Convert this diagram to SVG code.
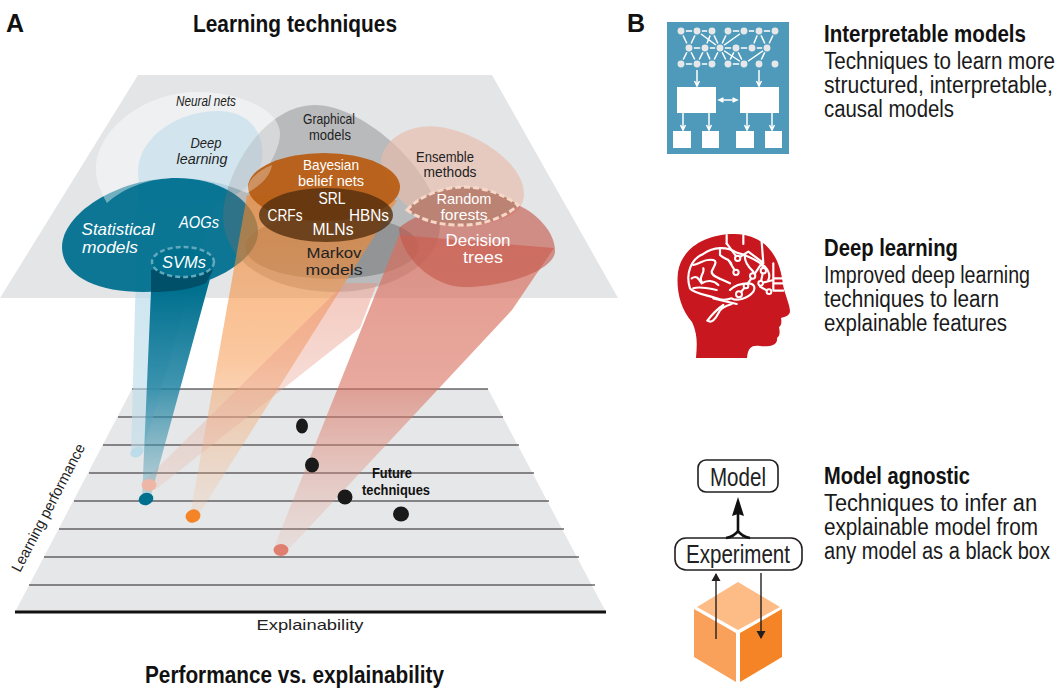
<svg xmlns="http://www.w3.org/2000/svg" width="1059" height="691" viewBox="0 0 1059 691">
<style>
text{font-family:"Liberation Sans",Arial,sans-serif}
.t{font-weight:700;font-size:24px;fill:#111}
.h{font-weight:700;font-size:20.5px;fill:#111}
.d{font-size:20.5px;fill:#1a1a1a}
.w{fill:#fff;font-size:17px;text-anchor:middle}
.k{fill:#222;font-size:15px;text-anchor:middle}
.i{font-style:italic}
.grid line{stroke:#231f20;stroke-width:1.2}
.lnk line{stroke:#fff;stroke-width:1.500}
.nd circle{fill:#e6e7e8;stroke:#4f9abb;stroke-width:1.500}
.wb{fill:#fff}
.ar{stroke:#fff;stroke-width:1.5;fill:none}
.bl{fill:none;stroke:#fff;stroke-width:6.500;stroke-linecap:round;stroke-linejoin:round}
.bc{fill:#c8171e;stroke:#fff;stroke-width:6}
.bx{fill:#fff;stroke:#231f20;stroke-width:1.6}
</style>
<defs>
<linearGradient id="gT" gradientUnits="userSpaceOnUse" x1="0" y1="290" x2="0" y2="499"><stop offset="0" stop-color="#00708f"/><stop offset="0.45" stop-color="#1d82a1" stop-opacity=".85"/><stop offset="1" stop-color="#5da3b8" stop-opacity=".3"/></linearGradient>
<linearGradient id="gB" gradientUnits="userSpaceOnUse" x1="0" y1="200" x2="0" y2="452"><stop offset="0" stop-color="#bcdcea" stop-opacity=".8"/><stop offset="1" stop-color="#bcdcea" stop-opacity=".55"/></linearGradient>
<linearGradient id="gO" gradientUnits="userSpaceOnUse" x1="0" y1="205" x2="0" y2="516"><stop offset="0" stop-color="#f58426" stop-opacity=".62"/><stop offset="0.5" stop-color="#f79a52" stop-opacity=".55"/><stop offset="1" stop-color="#f7b98a" stop-opacity=".15"/></linearGradient>
<linearGradient id="gP" gradientUnits="userSpaceOnUse" x1="0" y1="283" x2="0" y2="490"><stop offset="0" stop-color="#e8927e" stop-opacity=".5"/><stop offset="1" stop-color="#e8b5a4" stop-opacity=".25"/></linearGradient>
<linearGradient id="gR" gradientUnits="userSpaceOnUse" x1="0" y1="230" x2="0" y2="550"><stop offset="0" stop-color="#d9705f" stop-opacity=".72"/><stop offset="0.5" stop-color="#d9705f" stop-opacity=".6"/><stop offset="1" stop-color="#e8a795" stop-opacity=".15"/></linearGradient>
<marker id="mh" viewBox="0 0 8 12" refX="7" refY="6" markerWidth="8" markerHeight="12" orient="auto" markerUnits="userSpaceOnUse"><path d="M0,1.5 L8,6 L0,10.5 Z" fill="#231f20"/></marker>
</defs>

<g id="panel-a-planes">
<polygon points="138,75 492,75 618,298 0,298" fill="#e4e5e7"/>
<polygon points="132,389 488,389 606,612 15,612" fill="#e6e7e8"/>
<g class="grid">
<line x1="132" y1="389" x2="488" y2="389"/><line x1="118" y1="417" x2="503" y2="417"/><line x1="103" y1="445" x2="519" y2="445"/><line x1="89" y1="473" x2="534" y2="473"/><line x1="74" y1="501" x2="549" y2="501"/><line x1="59" y1="529" x2="564" y2="529"/><line x1="44" y1="557" x2="579" y2="557"/><line x1="29" y1="585" x2="595" y2="585"/>
</g>
<line x1="15" y1="612" x2="606" y2="612" stroke="#111" stroke-width="3"/>
</g>

<g id="deep-learning"><path d="M138,170 C140,135 180,110 220,111 C255,112 265,140 262,160 C258,185 235,195 225,200 L140,215Z" fill="#a9d0e2" fill-opacity=".85"/></g>
<g id="beam-deep"><polygon points="138,200 215,200 143,452 131,452" fill="url(#gB)"/></g>
<g id="statistical"><path d="M62,247 C62,215 115,178 177,178 C225,178 258,205 258,232 C258,262 205,292 143,292 C95,292 62,275 62,247Z" fill="#00708f" fill-opacity=".95"/></g>
<g id="graphical-models"><path d="M223,215 C225,170 265,105 315,105 C365,105 440,175 440,225 C440,265 390,292 335,292 C275,292 223,265 223,215Z" fill="#6d6e71" fill-opacity=".36"/></g>
<g id="neural-nets"><path d="M96,165 C100,125 150,90 200,92 C245,93 282,112 280,136 C278,155 262,178 247,193 C225,183 200,178 177,178 C150,178 125,187 107,203 C100,190 95,180 96,165Z" fill="#fff" fill-opacity=".42"/></g>
<g id="ensemble"><path d="M381,160 C385,135 415,123 440,127 C480,133 525,165 524,195 C523,215 500,225 460,226 C420,225 385,195 381,160Z" fill="#e7bcaa" fill-opacity=".65"/></g>
<g id="markov"><ellipse cx="332" cy="247" rx="87" ry="32" fill="#3d3a3a" fill-opacity=".3"/></g>

<g id="connectors">
<polygon points="247,195 397,200 198,516 190,516" fill="url(#gO)"/>
<polygon points="345,283 377,283 360,328 155,490 143,482" fill="url(#gP)"/>
<polygon points="399,235 554,248 512,310 288,550 273,550" fill="url(#gR)"/>
</g>

<g id="decision-trees"><path d="M399,228 C415,215 440,205 465,205 C490,205 510,200 518,205 C540,215 556,235 555,252 C553,272 500,288 462,287 C430,285 400,255 399,228Z" fill="#c4574a" fill-opacity=".62"/></g>
<g id="random-forests"><path d="M407,210 C420,195 445,187 463,187 C485,187 505,195 518,205 C505,218 480,226 458,225 C435,225 418,218 407,210Z" fill="#bb8373" stroke="#f6d8c8" stroke-width="3" stroke-dasharray="6 3"/></g>
<g id="bayesian"><ellipse cx="324" cy="187" rx="76" ry="34" fill="#b85f16" fill-opacity=".96"/><path d="M248,187 C250,177 260,170 272,165 C270,178 258,187 247,193Z" fill="#fff" fill-opacity=".3"/></g>
<g id="srl"><ellipse cx="326" cy="215" rx="67" ry="27" fill="#54300f" fill-opacity=".8"/></g>
<g id="teal-beam"><polygon points="152,268 213,268 150,499 142,499" fill="url(#gT)"/><path d="M151,270 L213,270 L206,283 C190,290 170,292 151,292Z" fill="#00506a"/></g>
<g id="svms"><ellipse cx="183" cy="262" rx="31" ry="15" fill="#00708f" stroke="#62a8bc" stroke-width="2.5" stroke-dasharray="5 3"/></g>

<g id="dots">
<ellipse cx="137" cy="452" rx="7" ry="5" fill="#bcdcea" transform="rotate(-25 137 452)"/>
<ellipse cx="149" cy="485" rx="7.500" ry="6" fill="#eeb7a5"/>
<ellipse cx="146" cy="499" rx="7.500" ry="6" fill="#00708f" transform="rotate(-20 146 499)"/>
<ellipse cx="193" cy="516" rx="7.500" ry="6.500" fill="#f58426" transform="rotate(-20 193 516)"/>
<ellipse cx="281" cy="550" rx="7.500" ry="6" fill="#e07f70"/>
<ellipse cx="302" cy="426" rx="6" ry="7.500" fill="#1a1a1a"/>
<ellipse cx="312" cy="465" rx="7" ry="7.500" fill="#1a1a1a"/>
<ellipse cx="345" cy="497" rx="7.500" ry="7.500" fill="#1a1a1a"/>
<ellipse cx="401" cy="514" rx="8" ry="7.500" fill="#1a1a1a"/>
</g>

<g id="labels-a">
<text x="6" y="32" font-size="25" font-weight="700" fill="#111">A</text>
<text x="193" y="32" class="t" textLength="204" lengthAdjust="spacingAndGlyphs">Learning techniques</text>
<text x="145" y="683" class="t" textLength="299" lengthAdjust="spacingAndGlyphs">Performance vs. explainability</text>
<text class="k i" x="206" y="106" textLength="60" lengthAdjust="spacingAndGlyphs">Neural nets</text>
<text class="k" x="329" y="124" textLength="52" lengthAdjust="spacingAndGlyphs">Graphical</text>
<text class="k" x="330" y="140" textLength="42" lengthAdjust="spacingAndGlyphs">models</text>
<text class="k i" x="206" y="148" font-size="16" textLength="31" lengthAdjust="spacingAndGlyphs">Deep</text>
<text class="k i" x="202" y="164" font-size="16" textLength="51" lengthAdjust="spacingAndGlyphs">learning</text>
<text class="k" x="445" y="162" textLength="58" lengthAdjust="spacingAndGlyphs">Ensemble</text>
<text class="k" x="450" y="177" textLength="53" lengthAdjust="spacingAndGlyphs">methods</text>
<text class="w" style="font-size:15px" x="331" y="170" textLength="56" lengthAdjust="spacingAndGlyphs">Bayesian</text>
<text class="w" style="font-size:15px" x="331" y="186" textLength="66" lengthAdjust="spacingAndGlyphs">belief nets</text>
<text class="w" x="332" y="204" textLength="27" lengthAdjust="spacingAndGlyphs">SRL</text>
<text class="w" x="285" y="221" textLength="35" lengthAdjust="spacingAndGlyphs">CRFs</text>
<text class="w" x="369" y="221" textLength="40" lengthAdjust="spacingAndGlyphs">HBNs</text>
<text class="w" x="333" y="235" textLength="41" lengthAdjust="spacingAndGlyphs">MLNs</text>
<text class="w" style="font-size:15px" x="464" y="204" textLength="55" lengthAdjust="spacingAndGlyphs">Random</text>
<text class="w" style="font-size:15px" x="464" y="220" textLength="47" lengthAdjust="spacingAndGlyphs">forests</text>
<text class="w" style="font-size:16px" x="478" y="246" textLength="65" lengthAdjust="spacingAndGlyphs">Decision</text>
<text class="w" style="font-size:16px" x="483" y="263" textLength="40" lengthAdjust="spacingAndGlyphs">trees</text>
<text class="k" x="334" y="258" style="font-size:15.500px" textLength="55" lengthAdjust="spacingAndGlyphs">Markov</text>
<text class="k" x="334" y="275" style="font-size:15.500px" textLength="57" lengthAdjust="spacingAndGlyphs">models</text>
<text class="w i" x="118" y="235" textLength="73" lengthAdjust="spacingAndGlyphs">Statistical</text>
<text class="w i" x="110" y="253" textLength="56" lengthAdjust="spacingAndGlyphs">models</text>
<text class="w i" x="199" y="228" textLength="40" lengthAdjust="spacingAndGlyphs">AOGs</text>
<text class="w i" x="184" y="268" textLength="44" lengthAdjust="spacingAndGlyphs">SVMs</text>
<text x="392" y="478" font-size="14" font-weight="700" fill="#111" text-anchor="middle" textLength="40" lengthAdjust="spacingAndGlyphs">Future</text>
<text x="396" y="495" font-size="14" font-weight="700" fill="#111" text-anchor="middle" textLength="68" lengthAdjust="spacingAndGlyphs">techniques</text>
<text x="310" y="630" font-size="15" fill="#222" text-anchor="middle" textLength="107" lengthAdjust="spacingAndGlyphs">Explainability</text>
<text transform="translate(20,573) rotate(-62.500)" font-size="15" fill="#222" textLength="142" lengthAdjust="spacingAndGlyphs">Learning performance</text>
</g>

<g id="icon-interpretable">
<rect x="667" y="22" width="122" height="132" fill="#4f9abb"/>
<g class="lnk">
<line x1="681" y1="31" x2="697" y2="31"/><line x1="697" y1="31" x2="712" y2="31"/><line x1="728" y1="31" x2="744" y2="31"/><line x1="744" y1="31" x2="759" y2="31"/><line x1="759" y1="31" x2="775" y2="31"/>
<line x1="681" y1="31" x2="689" y2="48"/><line x1="697" y1="31" x2="689" y2="48"/><line x1="697" y1="31" x2="720" y2="48"/><line x1="712" y1="31" x2="705" y2="48"/><line x1="712" y1="31" x2="720" y2="48"/><line x1="728" y1="31" x2="720" y2="48"/><line x1="744" y1="31" x2="720" y2="48"/><line x1="759" y1="31" x2="752" y2="48"/><line x1="759" y1="31" x2="767" y2="48"/><line x1="775" y1="31" x2="767" y2="48"/>
<line x1="689" y1="48" x2="705" y2="48"/><line x1="705" y1="48" x2="720" y2="48"/><line x1="720" y1="48" x2="736" y2="48"/><line x1="736" y1="48" x2="752" y2="48"/><line x1="752" y1="48" x2="767" y2="48"/>
<line x1="689" y1="48" x2="681" y2="64"/><line x1="689" y1="48" x2="697" y2="64"/><line x1="705" y1="48" x2="697" y2="64"/><line x1="705" y1="48" x2="712" y2="64"/><line x1="720" y1="48" x2="712" y2="64"/><line x1="720" y1="48" x2="728" y2="64"/><line x1="720" y1="48" x2="744" y2="64"/><line x1="736" y1="48" x2="728" y2="64"/><line x1="736" y1="48" x2="744" y2="64"/><line x1="767" y1="48" x2="744" y2="64"/><line x1="767" y1="48" x2="759" y2="64"/>
<line x1="681" y1="64" x2="697" y2="64"/><line x1="697" y1="64" x2="712" y2="64"/><line x1="728" y1="64" x2="744" y2="64"/>
</g>
<g class="nd">
<circle cx="681" cy="31" r="4.200"/><circle cx="697" cy="31" r="4.200"/><circle cx="712" cy="31" r="4.200"/><circle cx="728" cy="31" r="4.200"/><circle cx="744" cy="31" r="4.200"/><circle cx="759" cy="31" r="4.200"/><circle cx="775" cy="31" r="4.200"/>
<circle cx="689" cy="48" r="4.200"/><circle cx="705" cy="48" r="4.200"/><circle cx="720" cy="48" r="4.200"/><circle cx="736" cy="48" r="4.200"/><circle cx="752" cy="48" r="4.200"/><circle cx="767" cy="48" r="4.200"/>
<circle cx="681" cy="64" r="4.200"/><circle cx="697" cy="64" r="4.200"/><circle cx="712" cy="64" r="4.200"/><circle cx="728" cy="64" r="4.200"/><circle cx="744" cy="64" r="4.200"/><circle cx="759" cy="64" r="4.200"/><circle cx="775" cy="64" r="4.200"/>
</g>
<rect class="wb" x="677" y="87" width="39" height="26"/><rect class="wb" x="740" y="87" width="39" height="26"/>
<rect class="wb" x="673" y="131" width="18" height="17"/><rect class="wb" x="702" y="131" width="17" height="17"/><rect class="wb" x="736" y="131" width="18" height="17"/><rect class="wb" x="765" y="131" width="17" height="17"/>
<g class="ar">
<path d="M697,70V85M694.500,81L697,86L699.500,81M759,70V85M756.500,81L759,86L761.500,81"/>
<path d="M683,113V129M680.500,125L683,130L685.500,125M709,113V129M706.500,125L709,130L711.500,125M747,113V129M744.500,125L747,130L749.500,125M772,113V129M769.500,125L772,130L774.500,125"/>
<path d="M720,100H736M723.500,98L719,100L723.500,102M732.500,98L737,100L732.500,102"/>
</g>
</g>

<g id="icon-head">
<path d="M696,358 C697,345 698,335 692,322 C680,308 676,290 678,272 C682,248 705,234 735,234 C765,235 780,255 783,285 C785,295 790,305 790,312 C789,316 784,317 781,318 C782,322 781,326 779,327 C780,332 780,336 777,338 C778,345 770,347 760,346 C752,345 748,347 747,358 Z" fill="#c8171e"/>
<g transform="translate(670,230) scale(.3333)">
<path class="bl" d="M60,175 C45,130 65,85 100,72 C130,50 170,48 200,68 M200,68 C225,75 255,85 285,110 C298,125 300,140 295,150 M60,175 C70,190 110,195 140,205 C155,212 170,210 185,205 M185,205 C200,215 235,205 250,185 C258,170 250,160 235,160 C215,160 195,165 180,180 M160,225 C145,235 125,255 112,272 C125,280 135,270 145,250 C150,235 165,228 185,222 M130,205 L200,222"/>
<path class="bl" d="M70,105 C95,100 100,85 130,90 C145,95 130,110 125,125 C125,140 150,145 180,160 M150,55 L150,75 C165,90 180,85 185,105 M100,115 C105,130 85,140 95,155 M65,145 C80,135 85,145 95,160 C110,150 130,150 145,165 M70,175 C90,168 115,175 140,180 M225,72 C222,90 228,105 250,125 L248,135 M170,40 L203,85 M203,85 L235,65 L275,95 L280,122 M198,127 L175,90 M228,168 L255,130 L275,100 M228,168 L207,193 M272,160 L310,150 M297,185 L270,170 M280,122 L272,158"/>
<path class="bl" d="M170,15 V42 M220,15 V42 M275,35 L280,100 M310,100 V180 M310,145 H352 M310,160 H352 M310,182 H340"/>
<circle class="bc" cx="203" cy="85" r="8"/><circle class="bc" cx="198" cy="127" r="8"/><circle class="bc" cx="248" cy="138" r="8"/><circle class="bc" cx="280" cy="122" r="8"/><circle class="bc" cx="228" cy="168" r="7"/><circle class="bc" cx="272" cy="160" r="7"/><circle class="bc" cx="297" cy="185" r="7"/><circle class="bc" cx="207" cy="193" r="9"/>
</g>
</g>

<g id="icon-cube">
<polygon points="738,582 780,607 738,630 697,607" fill="#fdbb85"/>
<polygon points="694,609 736,633 736,682 694,657" fill="#f9a05a"/>
<polygon points="740,633 782,609 782,657 740,682" fill="#f58426"/>
</g>
<g id="box-model"><rect class="bx" x="698" y="460" width="80" height="32" rx="8"/><text x="738" y="486" font-size="26" fill="#222" text-anchor="middle" textLength="56" lengthAdjust="spacingAndGlyphs">Model</text></g>
<g id="box-experiment"><rect class="bx" x="675" y="538" width="127" height="32" rx="11"/><text x="738" y="563" font-size="26" fill="#222" text-anchor="middle" textLength="104" lengthAdjust="spacingAndGlyphs">Experiment</text></g>
<g id="connectors-b">
<path d="M738,497 L744,516 L738,514 L732,516Z" fill="#111"/>
<path d="M738,512V531 M738,531 C736,534 731,537 726,538 M738,531 C740,534 745,537 750,538" stroke="#111" stroke-width="2.600" fill="none"/>
<line x1="716" y1="639" x2="716" y2="574" stroke="#231f20" stroke-width="1.400" marker-end="url(#mh)"/>
<line x1="761" y1="573" x2="761" y2="638" stroke="#231f20" stroke-width="1.400" marker-end="url(#mh)"/>
</g>

<g id="labels-b">
<text x="627" y="32" font-size="25" font-weight="700" fill="#111">B</text>
<text class="h" transform="translate(824,42) scale(1,1.14)" textLength="202" lengthAdjust="spacingAndGlyphs">Interpretable models</text>
<text class="d" transform="translate(824,69) scale(1,1.14)" textLength="231" lengthAdjust="spacingAndGlyphs">Techniques to learn more</text>
<text class="d" transform="translate(824,93) scale(1,1.14)" textLength="229" lengthAdjust="spacingAndGlyphs">structured, interpretable,</text>
<text class="d" transform="translate(824,117) scale(1,1.14)" textLength="130" lengthAdjust="spacingAndGlyphs">causal models</text>
<text class="h" transform="translate(824,256) scale(1,1.14)" textLength="134" lengthAdjust="spacingAndGlyphs">Deep learning</text>
<text class="d" transform="translate(824,283) scale(1,1.14)" textLength="206" lengthAdjust="spacingAndGlyphs">Improved deep learning</text>
<text class="d" transform="translate(824,307) scale(1,1.14)" textLength="175" lengthAdjust="spacingAndGlyphs">techniques to learn</text>
<text class="d" transform="translate(824,331) scale(1,1.14)" textLength="183" lengthAdjust="spacingAndGlyphs">explainable features</text>
<text class="h" transform="translate(824,484) scale(1,1.14)" textLength="146" lengthAdjust="spacingAndGlyphs">Model agnostic</text>
<text class="d" transform="translate(824,511) scale(1,1.14)" textLength="213" lengthAdjust="spacingAndGlyphs">Techniques to infer an</text>
<text class="d" transform="translate(824,535) scale(1,1.14)" textLength="214" lengthAdjust="spacingAndGlyphs">explainable model from</text>
<text class="d" transform="translate(824,559) scale(1,1.14)" textLength="226" lengthAdjust="spacingAndGlyphs">any model as a black box</text>
</g>
</svg>
